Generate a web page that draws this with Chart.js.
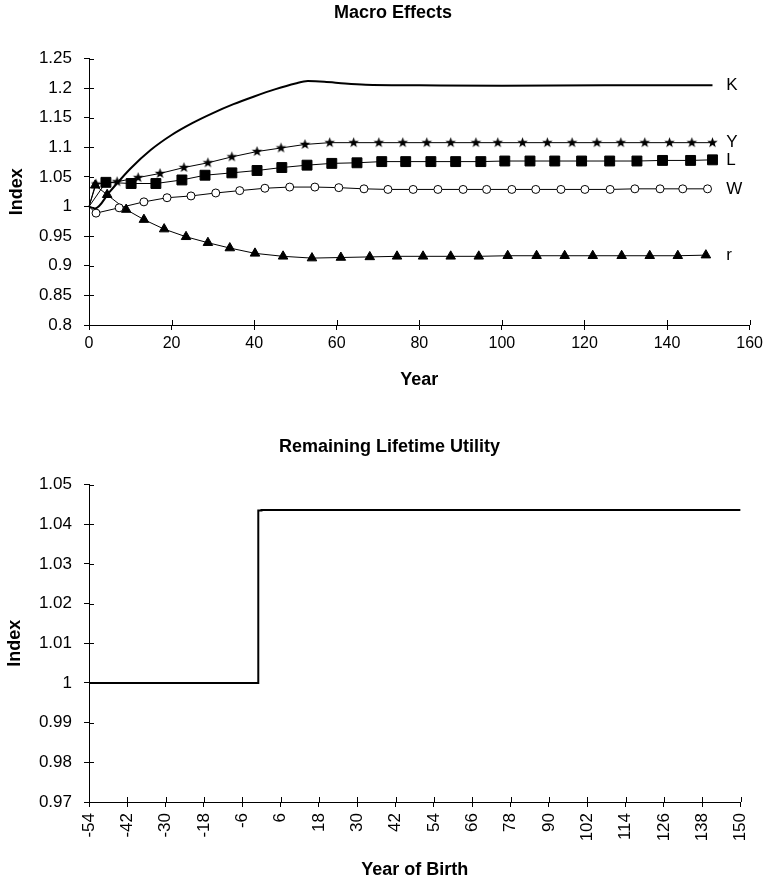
<!DOCTYPE html>
<html>
<head>
<meta charset="utf-8">
<title>Macro Effects / Remaining Lifetime Utility</title>
<script src="https://cdn.jsdelivr.net/npm/chart.js@4.4.1/dist/chart.umd.min.js"></script>
<style>
  html, body { margin: 0; padding: 0; background: #fff; }
  #page { position: relative; width: 767px; height: 881px; }
  #topBox { position: absolute; left: 0; top: 0; width: 767px; height: 410px; }
  #bottomBox { position: absolute; left: 0; top: 420px; width: 767px; height: 461px; }
</style>
</head>
<body>
<div id="page">
  <div id="topBox"><canvas id="macroChart" width="767" height="410"></canvas></div>
  <div id="bottomBox"><canvas id="utilityChart" width="767" height="461"></canvas></div>
</div>
<script>
// ---- data ----

// top chart: macro variables, index vs year
const kYears = [0, 1.5, 5, 10, 15, 20, 25, 30, 35, 40, 45, 50, 53, 57, 62, 67, 80, 100, 125, 151];
const kValues = [1.0, 0.997, 1.025, 1.064, 1.096, 1.121, 1.141, 1.158, 1.173, 1.186, 1.198, 1.208, 1.212, 1.211, 1.208, 1.206, 1.205, 1.204, 1.205, 1.205];

const yYears = [0, 1.7, 6.8, 11.9, 17.2, 23, 28.8, 34.6, 40.7, 46.5, 52.3, 58.3, 64.1, 70.2, 76, 81.8, 87.6, 93.7, 99, 105, 111, 117, 123, 128.8, 134.6, 140.6, 146, 151];
const yValues = [1.0, 1.038, 1.042, 1.049, 1.056, 1.066, 1.074, 1.084, 1.093, 1.099, 1.105, 1.108, 1.108, 1.108, 1.108, 1.108, 1.108, 1.108, 1.108, 1.108, 1.108, 1.108, 1.108, 1.108, 1.108, 1.108, 1.108, 1.108];

const lYears = [0, 4.1, 10.2, 16.2, 22.5, 28.1, 34.6, 40.7, 46.7, 52.8, 58.8, 64.9, 70.9, 76.7, 82.8, 88.8, 94.9, 100.7, 106.8, 112.8, 119.3, 126.1, 132.7, 138.9, 145.7, 151];
const lValues = [1.0, 1.041, 1.039, 1.039, 1.045, 1.053, 1.057, 1.061, 1.066, 1.070, 1.073, 1.074, 1.076, 1.076, 1.076, 1.076, 1.076, 1.077, 1.077, 1.077, 1.077, 1.077, 1.077, 1.078, 1.078, 1.079];

const wYears = [0, 1.7, 7.3, 13.3, 18.9, 24.7, 30.7, 36.5, 42.6, 48.6, 54.7, 60.5, 66.6, 72.4, 78.5, 84.5, 90.6, 96.3, 102.4, 108.2, 114.3, 120.1, 126.2, 132.2, 138.3, 143.8, 149.8];
const wValues = [1.0, 0.989, 0.998, 1.008, 1.015, 1.018, 1.023, 1.027, 1.031, 1.033, 1.033, 1.032, 1.030, 1.029, 1.029, 1.029, 1.029, 1.029, 1.029, 1.029, 1.029, 1.029, 1.029, 1.030, 1.030, 1.030, 1.030];

const rYears = [0, 1.5, 4.4, 9.0, 13.3, 18.2, 23.5, 28.8, 34.1, 40.2, 47.0, 54.0, 61.0, 68.0, 74.6, 80.9, 87.6, 94.4, 101.4, 108.4, 115.2, 122.0, 129.0, 135.8, 142.6, 149.4];
const rValues = [1.0, 1.036, 1.020, 0.995, 0.978, 0.962, 0.949, 0.939, 0.930, 0.921, 0.916, 0.913, 0.914, 0.915, 0.916, 0.916, 0.916, 0.916, 0.917, 0.917, 0.917, 0.917, 0.917, 0.917, 0.917, 0.918];

const topXTicks = [0, 20, 40, 60, 80, 100, 120, 140, 160];
const topYTicks = [0.8, 0.85, 0.9, 0.95, 1, 1.05, 1.1, 1.15, 1.2, 1.25];

// bottom chart: remaining lifetime utility by year of birth
const birthYears = [-54, -1, 0, 150];
const utilityValues = [1.0, 1.0, 1.0435, 1.0436];

const bottomXTicks = [-54, -42, -30, -18, -6, 6, 18, 30, 42, 54, 66, 78, 90, 102, 114, 126, 138, 150];
const bottomYTicks = [0.97, 0.98, 0.99, 1, 1.01, 1.02, 1.03, 1.04, 1.05];

// ---- helpers ----
const FONT = '"Liberation Sans", Arial, Helvetica, sans-serif';
Chart.defaults.font.family = FONT;
Chart.defaults.color = '#000';

function toPoints(xs, ys) {
    return xs.map((x, i) => ({ x: x, y: ys[i] }));
}

// filled five point star for the Y series
function makeStar(r) {
    const c = document.createElement('canvas');
    const s = Math.ceil(r * 2 + 2);
    c.width = s;
    c.height = s;
    const g = c.getContext('2d');
    g.beginPath();
    for (let i = 0; i < 10; i++) {
        const rad = i % 2 === 0 ? r : r * 0.42;
        const a = -Math.PI / 2 + i * Math.PI / 5;
        const px = s / 2 + rad * Math.cos(a);
        const py = s / 2 + rad * Math.sin(a);
        if (i === 0) g.moveTo(px, py); else g.lineTo(px, py);
    }
    g.closePath();
    g.fillStyle = '#000';
    g.fill();
    return c;
}

function fmt(v) {
    return String(Math.round(v * 100) / 100);
}

// tick marks crossing into the plot (Chart.js only draws the outside half)
const innerTicks = {
    id: 'innerTicks',
    afterDraw(chart) {
        const ctx = chart.ctx;
        const xs = chart.scales.x;
        const ys = chart.scales.y;
        ctx.save();
        ctx.strokeStyle = '#000';
        ctx.lineWidth = 1;
        xs.ticks.forEach(t => {
            const px = Math.round(xs.getPixelForValue(t.value)) + 0.5;
            ctx.beginPath();
            ctx.moveTo(px, xs.top);
            ctx.lineTo(px, xs.top - 5);
            ctx.stroke();
        });
        ys.ticks.forEach(t => {
            const py = Math.round(ys.getPixelForValue(t.value)) + 0.5;
            ctx.beginPath();
            ctx.moveTo(ys.right, py);
            ctx.lineTo(ys.right + 5, py);
            ctx.stroke();
        });
        ctx.restore();
    }
};

// series names written at the right end of each line
const endLabels = {
    id: 'endLabels',
    afterDatasetsDraw(chart) {
        const ctx = chart.ctx;
        const xs = chart.scales.x;
        const ys = chart.scales.y;
        const lx = xs.getPixelForValue(150) + 18;
        ctx.save();
        ctx.font = '17px ' + FONT;
        ctx.fillStyle = '#000';
        ctx.textBaseline = 'middle';
        chart.data.datasets.forEach(ds => {
            const last = ds.data[ds.data.length - 1];
            ctx.fillText(ds.label, lx, ys.getPixelForValue(last.y));
        });
        ctx.restore();
    }
};

const hideFirst = ctx => ctx.dataIndex === 0 ? 0 : 1;

function axisCommon(ticksArr, min, max) {
    return {
        type: 'linear',
        min: min,
        max: max,
        border: { color: '#000', width: 1 },
        grid: { display: true, drawOnChartArea: false, color: '#000', tickLength: 5, tickWidth: 1 },
        afterBuildTicks: scale => { scale.ticks = ticksArr.map(v => ({ value: v })); }
    };
}

// ---- top chart ----
const starImg = makeStar(5.5);

const topX = axisCommon(topXTicks, 0, 160);
topX.ticks = { font: { size: 16 }, padding: 4, maxRotation: 0, autoSkip: false };
topX.title = { display: true, text: 'Year', font: { size: 18, weight: 'bold' }, padding: { top: 0, bottom: 19 } };
topX.afterFit = scale => { scale.height = 85; };

const topY = axisCommon(topYTicks, 0.8, 1.25);
topY.ticks = { font: { size: 17 }, padding: 12, callback: v => fmt(v) };
topY.title = { display: true, text: 'Index', font: { size: 18, weight: 'bold' }, padding: { top: -30, bottom: 0 } };
topY.afterFit = scale => { scale.width = 53; };

new Chart(document.getElementById('macroChart'), {
    type: 'line',
    data: {
        datasets: [
            {
                label: 'K',
                data: toPoints(kYears, kValues),
                borderColor: '#000',
                borderWidth: 2,
                pointRadius: 0,
                cubicInterpolationMode: 'monotone'
            },
            {
                label: 'Y',
                data: toPoints(yYears, yValues),
                borderColor: '#000',
                borderWidth: 1,
                pointStyle: starImg,
                pointRadius: ctx => hideFirst(ctx) * 5
            },
            {
                label: 'L',
                data: toPoints(lYears, lValues),
                borderColor: '#000',
                borderWidth: 1,
                pointStyle: 'rect',
                pointBackgroundColor: '#000',
                pointBorderColor: '#000',
                pointRadius: ctx => hideFirst(ctx) * 7
            },
            {
                label: 'W',
                data: toPoints(wYears, wValues),
                borderColor: '#000',
                borderWidth: 1,
                pointStyle: 'circle',
                pointBackgroundColor: '#fff',
                pointBorderColor: '#000',
                pointBorderWidth: 1,
                pointRadius: ctx => hideFirst(ctx) * 4
            },
            {
                label: 'r',
                data: toPoints(rYears, rValues),
                borderColor: '#000',
                borderWidth: 1,
                pointStyle: 'triangle',
                pointBackgroundColor: '#000',
                pointBorderColor: '#000',
                pointRadius: ctx => hideFirst(ctx) * 5.5
            }
        ]
    },
    options: {
        responsive: false,
        animation: false,
        clip: false,
        layout: { padding: { left: 36, right: 17, top: 0, bottom: 0 } },
        plugins: {
            legend: { display: false },
            tooltip: { enabled: false },
            title: {
                display: true,
                text: 'Macro Effects',
                font: { size: 18, weight: 'bold' },
                padding: { top: 2, bottom: 35 }
            }
        },
        scales: { x: topX, y: topY }
    },
    plugins: [innerTicks, endLabels]
});

// ---- bottom chart ----
const botX = axisCommon(bottomXTicks, -54, 150);
botX.ticks = { font: { size: 17 }, padding: 6, minRotation: 90, maxRotation: 90, autoSkip: false };
botX.title = { display: true, text: 'Year of Birth', font: { size: 18, weight: 'bold' }, padding: { top: 0, bottom: 0 } };
botX.afterFit = scale => { scale.height = 79; };

const botY = axisCommon(bottomYTicks, 0.97, 1.05);
botY.ticks = { font: { size: 17 }, padding: 12, callback: v => fmt(v) };
botY.title = { display: true, text: 'Index', font: { size: 18, weight: 'bold' }, padding: { top: -32, bottom: 0 } };
botY.afterFit = scale => { scale.width = 53; };

new Chart(document.getElementById('utilityChart'), {
    type: 'line',
    data: {
        datasets: [{
            label: 'Utility',
            data: toPoints(birthYears, utilityValues),
            borderColor: '#000',
            borderWidth: 2,
            pointRadius: 0,
            stepped: 'after'
        }]
    },
    options: {
        responsive: false,
        animation: false,
        layout: { padding: { left: 36, right: 24, top: 0, bottom: 0 } },
        plugins: {
            legend: { display: false },
            tooltip: { enabled: false },
            title: {
                display: true,
                text: 'Remaining Lifetime Utility',
                font: { size: 18, weight: 'bold' },
                padding: { top: 16, bottom: 27 }
            }
        },
        scales: { x: botX, y: botY }
    },
    plugins: [innerTicks]
});
</script>
</body>
</html>
